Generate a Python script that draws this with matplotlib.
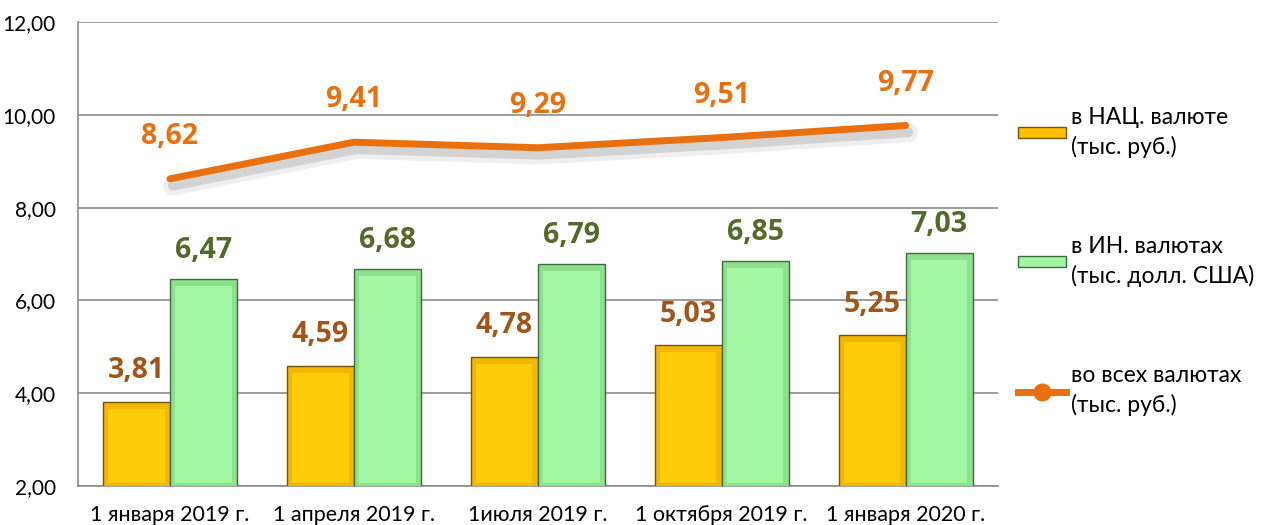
import numpy as np
import matplotlib.pyplot as plt
import matplotlib.patheffects as pe
from matplotlib.patches import Patch
from matplotlib.lines import Line2D

categories = ['1 января 2019 г.', '1 апреля 2019 г.', '1июля 2019 г.',
              '1 октября 2019 г.', '1 января 2020 г.']
nat_currency = [3.81, 4.59, 4.78, 5.03, 5.25]
foreign_currency = [6.47, 6.68, 6.79, 6.85, 7.03]
all_currencies = [8.62, 9.41, 9.29, 9.51, 9.77]
legend_labels = ['в НАЦ. валюте\n(тыс. руб.)',
                 'в ИН. валютах\n(тыс. долл. США)',
                 'во всех валютах\n(тыс. руб.)']

plt.rcParams['font.family'] = ['Lato', 'DejaVu Sans']
label_font = ['Open Sans', 'DejaVu Sans']


def fmt(v):
    return f'{v:.2f}'.replace('.', ',')


fig = plt.figure(figsize=(12.66, 5.25), dpi=100)
ax = fig.add_axes([0.0616, 0.0743, 0.7264, 0.8838])

x = np.arange(len(categories))
w = 0.365
yellow = '#F2B700'
green = '#8EE08E'
orange = '#E8700F'

ax.bar(x - w / 2, nat_currency, w, bottom=0, color=yellow,
       edgecolor='#6E5410', linewidth=1.0, zorder=3)
ax.bar(x + w / 2, foreign_currency, w, bottom=0, color=green,
       edgecolor='#3F6A3F', linewidth=1.0, zorder=3)

# lighter inner face to hint at the bevel look
ax.bar(x - w / 2, np.array(nat_currency) - 2.22, w * 0.84, bottom=2.07,
       color='#FFCC0A', linewidth=0, zorder=4)
ax.bar(x + w / 2, np.array(foreign_currency) - 2.22, w * 0.84, bottom=2.07,
       color='#A3F7A3', linewidth=0, zorder=4)

ax.plot(x, all_currencies, color=orange, lw=5, solid_capstyle='round',
        zorder=5,
        path_effects=[pe.SimpleLineShadow(offset=(2, -5), shadow_color='gray',
                                          alpha=0.12, linewidth=14),
                      pe.SimpleLineShadow(offset=(2, -5), shadow_color='gray',
                                          alpha=0.25, linewidth=7),
                      pe.Normal()])

for xi, v in zip(x, nat_currency):
    ax.annotate(fmt(v), (xi - w / 2, v), xytext=(0, 12), textcoords='offset points',
                ha='center', va='bottom', fontsize=20.5, fontweight='bold',
                family=label_font, color='#A0561A', zorder=6)
for xi, v in zip(x, foreign_currency):
    ax.annotate(fmt(v), (xi + w / 2, v), xytext=(0, 10), textcoords='offset points',
                ha='center', va='bottom', fontsize=20.5, fontweight='bold',
                family=label_font, color='#546A2A', zorder=6)
for xi, v in zip(x, all_currencies):
    ax.annotate(fmt(v), (xi, v), xytext=(0, 20), textcoords='offset points',
                ha='center', va='bottom', fontsize=20.5, fontweight='bold',
                family=label_font, color=orange, zorder=6)

ax.set_xlim(-0.5, len(categories) - 0.5)
ax.set_ylim(2, 12)
ax.set_yticks(np.arange(2, 12.1, 2))
ax.set_yticklabels([fmt(t) for t in np.arange(2, 12.1, 2)], fontsize=15)
ax.set_xticks(x)
ax.set_xticklabels(categories, fontsize=15.5)
ax.tick_params(axis='x', length=0, pad=14)
ax.tick_params(axis='y', length=0, pad=16)
ax.grid(axis='y', color='#8C8C8C', lw=1.2, zorder=0)
ax.set_axisbelow(True)
for s in ['top', 'right']:
    ax.spines[s].set_visible(False)
for s in ['left', 'bottom']:
    ax.spines[s].set_color('#8C8C8C')
    ax.spines[s].set_linewidth(1.2)

handles = [Patch(facecolor='#FFC000', edgecolor='#6E5410'),
           Patch(facecolor='#A3F5A3', edgecolor='#3F6A3F'),
           Line2D([0], [0], color=orange, lw=5, marker='o', markersize=12)]
leg = fig.legend(handles, legend_labels, loc='upper left', bbox_to_anchor=(0.788, 0.836),
                 frameon=False, fontsize=16.5, labelspacing=3.4, handlelength=2.1,
                 handleheight=0.35, handletextpad=0.2)
for t in leg.get_texts():
    t.set_linespacing(1.45)

fig.savefig('out.png', dpi=100)
